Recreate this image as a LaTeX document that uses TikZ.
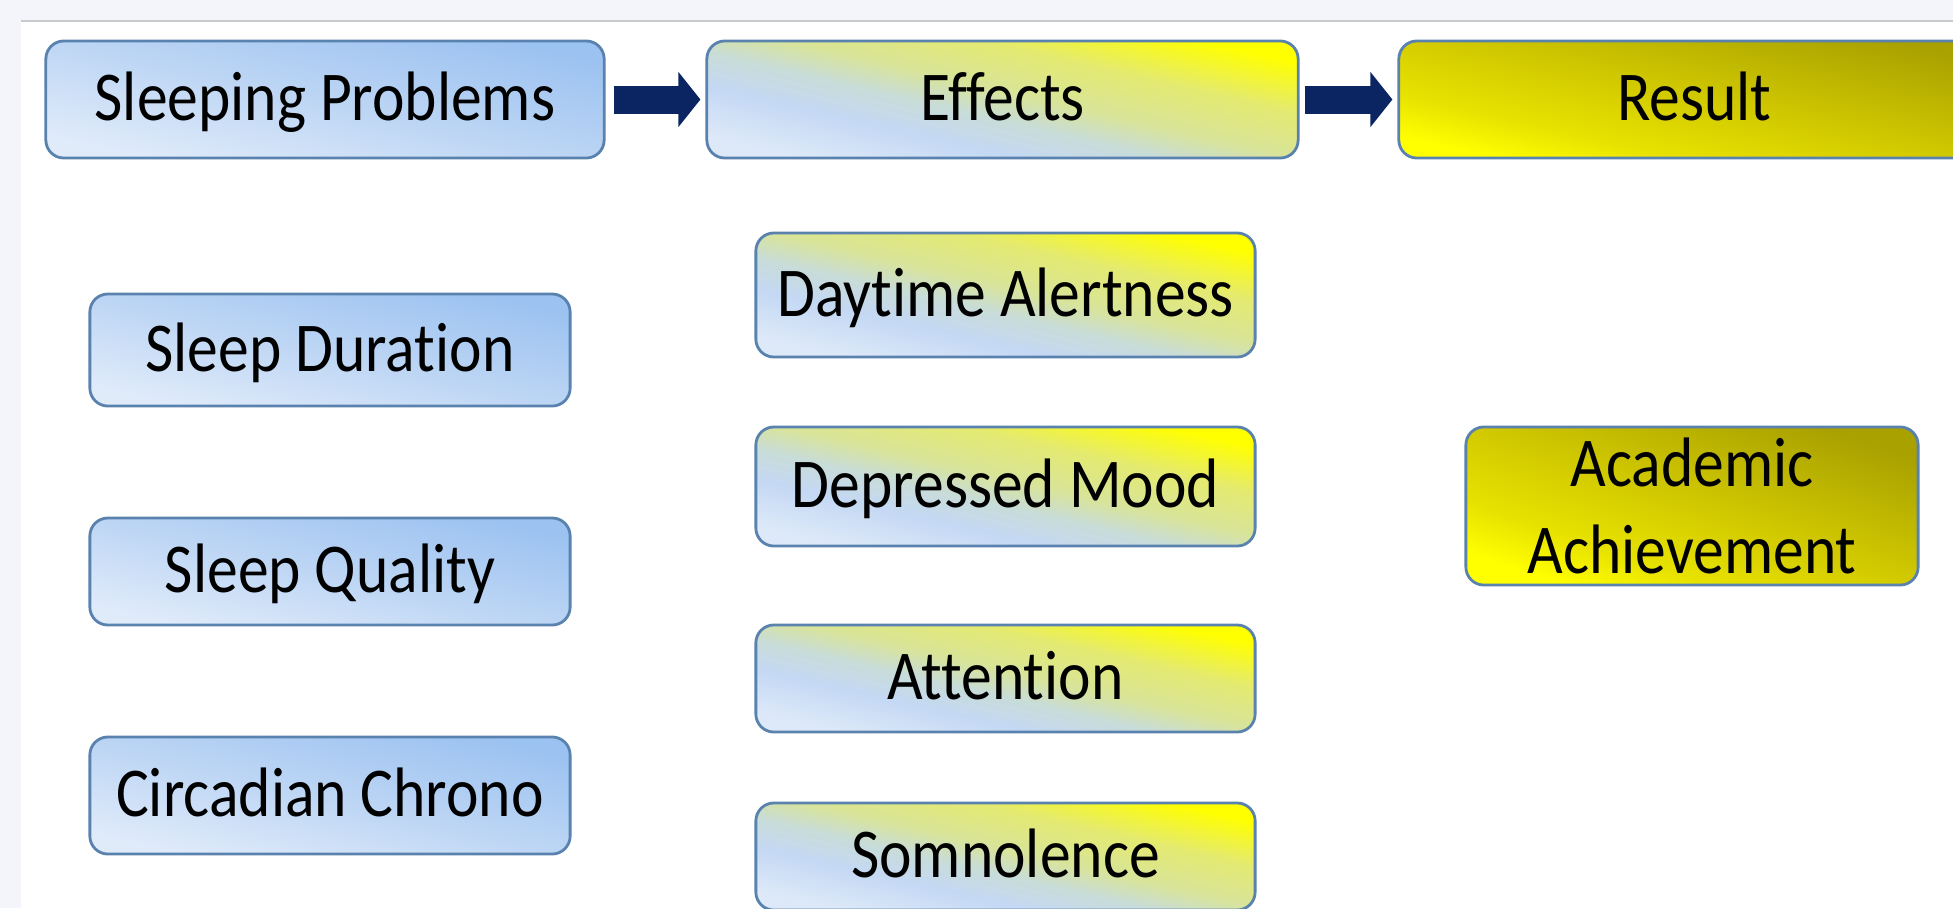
\documentclass[tikz,border=0pt]{standalone}
\usepackage{fontspec}
\setmainfont{Carlito}[FakeStretch=0.88, Ligatures={NoCommon}]
\usepackage{tikz}
\usetikzlibrary{positioning,arrows.meta}

\definecolor{pagebg}{HTML}{F3F5FA}
\definecolor{topline}{HTML}{C8CACE}
\definecolor{boxedge}{HTML}{5A82AE}
\definecolor{arrownavy}{HTML}{0B2562}
\definecolor{problo}{HTML}{E0EBFA}
\definecolor{probmid}{HTML}{BCD5F4}
\definecolor{probhi}{HTML}{9CC2F1}
\definecolor{efflo}{HTML}{DDE9F8}
\definecolor{effblue}{HTML}{C4D8F4}
\definecolor{effgrey}{HTML}{C8DCD8}
\definecolor{effgreen}{HTML}{D8E49A}
\definecolor{effolive}{HTML}{E4EA70}
\definecolor{effhi}{HTML}{FFFF00}
\definecolor{reslo}{HTML}{FFFF00}
\definecolor{resnear}{HTML}{E8E200}
\definecolor{resmid}{HTML}{D2CA00}
\definecolor{reshi}{HTML}{A9A100}

\pgfdeclareverticalshading{probshade}{100bp}{color(0bp)=(problo); color(25bp)=(problo);
    color(50bp)=(probmid); color(75bp)=(probhi); color(100bp)=(probhi)}
\pgfdeclareverticalshading{effshade}{100bp}{color(0bp)=(efflo); color(25bp)=(efflo);
    color(37bp)=(effblue); color(45bp)=(effgrey); color(52bp)=(effgreen);
    color(63bp)=(effolive); color(75bp)=(effhi); color(100bp)=(effhi)}
\pgfdeclareverticalshading{resshade}{100bp}{color(0bp)=(reslo); color(25bp)=(reslo);
    color(35bp)=(resnear); color(50bp)=(resmid); color(75bp)=(reshi); color(100bp)=(reshi)}

\begin{document}
\begin{tikzpicture}[x=0.01cm,y=-0.01cm,
    box/.style={draw=boxedge, line width=0.8pt, rounded corners=0.18cm,
        align=center, inner sep=0pt, text height=17pt, text depth=5pt,
        font=\fontsize{19.9}{24.5}\selectfont},
    probbox/.style={box, shade, shading=probshade, shading angle=-13},
    effbox/.style={box, shade, shading=effshade, shading angle=-13},
    resbox/.style={box, shade, shading=resshade, shading angle=-13},
    flowarrow/.style={draw=arrownavy, line width=0.28cm,
        -{Triangle[length=0.22cm, width=0.54cm]}}]
    \useasboundingbox (0,0) rectangle (1953,908);
    \clip (0,0) rectangle (1953,908);
    \fill[pagebg] (0,0) rectangle (1953,908);
    \fill[white] (21,21) rectangle (1953,908);
    \draw[topline, line width=0.8pt] (21,21) -- (1953,21);

    \node[probbox, minimum width=5.58cm, minimum height=1.17cm] (sp) at (325,99.5) {Sleeping Problems};
    \node[effbox, minimum width=5.91cm, minimum height=1.17cm] (eff) at (1002.5,99.5) {Effects};
    \node[resbox, minimum width=5.91cm, minimum height=1.17cm] (res) at (1694.5,99.5) {Result};
    \draw[flowarrow] ([xshift=0.08cm]sp.east) -- ([xshift=-0.05cm]eff.west);
    \draw[flowarrow] ([xshift=0.05cm]eff.east) -- ([xshift=-0.05cm]res.west);

    \node[probbox, minimum width=4.8cm, minimum height=1.12cm] (dur) at (330,350) {Sleep Duration};
    \node[probbox, minimum width=4.8cm, minimum height=1.07cm] (qual) at (330,571.5) {Sleep Quality};
    \node[probbox, minimum width=4.8cm, minimum height=1.17cm] (circ) at (330,795.5) {Circadian Chrono};

    \node[effbox, minimum width=4.99cm, minimum height=1.24cm] (day) at (1005.5,295) {Daytime Alertness};
    \node[effbox, minimum width=4.99cm, minimum height=1.19cm] (mood) at (1005.5,486.5) {Depressed Mood};
    \node[effbox, minimum width=4.99cm, minimum height=1.07cm] (att) at (1005.5,678.5) {Attention};
    \node[effbox, minimum width=4.99cm, minimum height=1.07cm] (som) at (1005.5,856.5) {Somnolence};

    \node[resbox, shading angle=-19, text height=, text depth=, minimum width=4.52cm, minimum height=1.58cm] (ach) at (1692,506) {Academic\\Achievement};
\end{tikzpicture}
\end{document}
